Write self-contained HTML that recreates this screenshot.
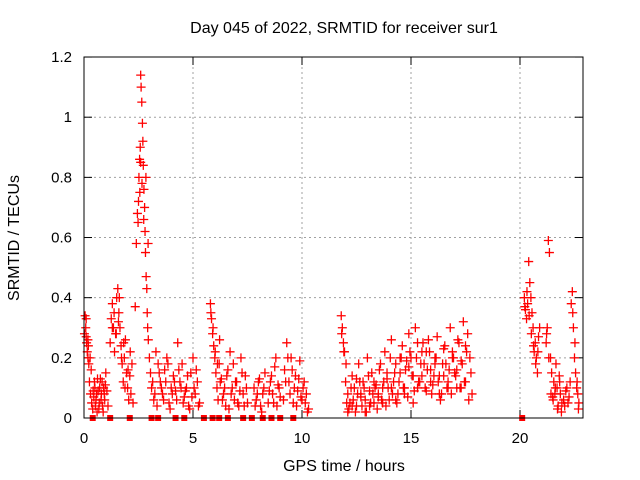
<!DOCTYPE html>
<html><head><meta charset="utf-8"><style>
body{margin:0;background:#fff;}
svg{display:block;font-family:"Liberation Sans",sans-serif;}
</style></head><body>
<svg id="chart" width="640" height="480">
<text x="344" y="33" font-size="16" text-anchor="middle">Day 045 of 2022, SRMTID for receiver sur1</text>
<text x="344" y="471" font-size="16" text-anchor="middle">GPS time / hours</text>
<text transform="translate(19,238) rotate(-90)" font-size="16" text-anchor="middle">SRMTID / TECUs</text>
<g id="grid"></g><g id="ticks"></g><g id="marks"></g>
<rect x="84" y="57" width="499" height="361" fill="none" stroke="#000" stroke-width="1"/>
</svg>
<script>
const xTicks=[0,5,10,15,20];
const yTicks=[0,0.2,0.4,0.6,0.8,1,1.2];
const yTickLabels=["0","0.2","0.4","0.6","0.8","1","1.2"];
const times=[0.05,0.08,0.1,0.12,0.15,0.18,0.2,0.22,0.25,0.3,0.35,0.4,0.45,0.5,0.55,0.6,0.65,0.7,0.75,0.8,0.85,0.9,0.95,1.0,1.05,1.1,
1.2,1.25,1.3,1.35,1.4,1.45,1.5,1.55,1.6,1.65,1.7,1.75,1.8,1.85,1.9,1.95,2.0,2.05,2.1,2.15,2.2,
2.35,2.4,2.45,2.5,2.52,2.55,2.58,2.6,2.62,2.65,2.68,2.7,2.72,2.75,2.78,2.8,2.82,2.85,2.88,2.9,2.92,2.95,3.0,3.05,3.1,3.2,
3.3,3.4,3.5,3.6,3.7,3.8,3.9,4.0,4.1,4.2,4.3,4.4,4.5,4.6,4.7,4.8,4.9,5.0,5.1,5.2,5.3,
5.8,5.85,5.9,5.95,6.0,6.05,6.1,6.15,6.2,6.3,6.4,6.5,6.6,6.7,6.8,6.9,7.0,7.1,7.2,7.3,7.4,7.5,
7.8,7.9,8.0,8.1,8.2,8.3,8.5,8.6,8.7,8.8,8.9,9.0,9.2,9.3,9.4,9.5,9.6,9.7,9.8,9.9,10.0,10.1,10.2,10.3,
11.8,11.85,11.9,11.95,12.0,12.1,12.2,12.3,12.4,12.5,12.6,12.7,12.8,12.9,13.0,13.1,13.2,13.3,13.4,13.5,13.6,13.7,13.8,13.9,14.0,14.1,14.2,14.3,14.4,14.5,14.6,14.7,14.8,14.9,15.0,15.1,15.2,15.3,15.4,15.5,15.6,15.7,15.8,15.9,16.0,16.1,16.2,16.3,16.4,16.5,16.6,16.7,16.8,16.9,17.0,17.1,17.2,17.3,17.4,17.5,17.6,17.7,17.8,
20.2,20.25,20.3,20.35,20.4,20.45,20.5,20.55,20.6,20.65,20.7,20.75,20.8,20.85,20.9,
21.2,21.25,21.3,21.35,21.4,21.45,21.5,21.55,21.6,21.65,21.7,21.75,21.8,21.85,21.9,22.0,22.1,22.2,22.3,22.35,22.4,22.45,22.5,22.55,22.6,22.65,22.7];
const values=[0.34,0.3,0.27,0.25,0.22,0.2,0.24,0.18,0.12,0.08,0.05,0.03,0.07,0.1,0.06,0.02,0.09,0.05,0.13,0.08,0.04,0.1,0.06,0.15,0.09,0.04,
0.25,0.33,0.38,0.3,0.22,0.28,0.4,0.43,0.35,0.3,0.24,0.18,0.12,0.2,0.26,0.15,0.1,0.06,0.14,0.08,0.18,
0.37,0.58,0.68,0.72,0.8,0.86,0.9,1.14,1.1,1.05,0.98,0.92,0.84,0.76,0.7,0.62,0.55,0.47,0.43,0.35,0.3,0.26,0.2,0.15,0.1,0.06,
0.22,0.18,0.12,0.08,0.16,0.2,0.05,0.1,0.14,0.09,0.25,0.12,0.18,0.07,0.1,0.04,0.15,0.2,0.08,0.12,0.05,
0.38,0.33,0.28,0.24,0.2,0.15,0.1,0.06,0.18,0.13,0.08,0.04,0.16,0.22,0.1,0.06,0.12,0.04,0.2,0.08,0.14,0.05,
0.1,0.06,0.12,0.04,0.08,0.15,0.09,0.14,0.05,0.2,0.11,0.07,0.16,0.25,0.12,0.2,0.05,0.14,0.09,0.19,0.06,0.12,0.08,0.03,
0.34,0.3,0.25,0.22,0.12,0.08,0.05,0.14,0.1,0.04,0.18,0.08,0.12,0.06,0.2,0.09,0.15,0.05,0.11,0.07,0.18,0.1,0.22,0.13,0.06,0.26,0.12,0.18,0.08,0.15,0.24,0.1,0.19,0.28,0.2,0.14,0.3,0.25,0.12,0.22,0.18,0.09,0.26,0.16,0.11,0.2,0.27,0.14,0.08,0.23,0.18,0.12,0.3,0.22,0.15,0.1,0.25,0.19,0.32,0.12,0.28,0.2,0.08,
0.4,0.36,0.33,0.38,0.52,0.45,0.4,0.35,0.3,0.22,0.25,0.2,0.15,0.27,0.3,
0.25,0.3,0.59,0.55,0.2,0.15,0.07,0.12,0.08,0.18,0.1,0.04,0.14,0.08,0.02,0.06,0.09,0.05,0.12,0.38,0.42,0.3,0.2,0.15,0.1,0.08,0.05];
const times2=[0.02,0.1,0.18,0.28,0.33,0.42,0.48,0.52,0.58,0.62,0.68,0.72,0.78,0.83,0.88,0.93,0.98,1.3,1.38,1.48,1.58,1.62,1.72,1.82,1.88,2.02,2.12,2.25,2.48,2.56,2.6,2.66,2.74,2.84,2.94,3.15,3.25,3.35,3.45,3.55,3.65,3.75,3.85,3.95,4.05,4.15,4.25,4.35,4.45,4.55,4.65,4.75,4.85,4.95,5.05,5.15,5.25,
5.82,5.92,6.02,6.12,6.22,6.25,6.35,6.45,6.55,6.65,6.75,6.85,6.95,7.05,7.15,7.25,7.35,7.45,7.85,7.95,8.05,8.15,8.25,8.45,8.55,8.65,8.75,8.85,8.95,9.15,9.25,9.35,9.45,9.55,9.65,9.75,9.85,9.95,10.05,10.15,10.25,
11.82,11.92,12.02,12.05,12.15,12.25,12.35,12.45,12.55,12.65,12.75,12.85,12.95,13.05,13.15,13.25,13.35,13.45,13.55,13.65,13.75,13.85,13.95,14.05,14.15,14.25,14.35,14.45,14.55,14.65,14.75,14.85,14.95,15.05,15.15,15.25,15.35,15.45,15.55,15.65,15.75,15.85,15.95,16.05,16.15,16.25,16.35,16.45,16.55,16.65,16.75,16.85,16.95,17.05,17.15,17.25,17.35,17.45,17.55,17.65,17.75,
12.1,12.3,12.5,12.7,12.9,13.1,13.3,13.5,13.7,13.9,14.1,14.3,14.5,14.7,14.9,15.1,15.3,15.5,15.7,15.9,16.1,16.3,16.5,16.7,16.9,17.1,17.3,17.5,
20.22,20.32,20.42,20.52,20.62,20.72,20.82,21.22,21.32,21.42,21.52,21.62,21.72,21.82,21.92,22.05,22.15,22.25,22.42,22.52,22.62,22.68];
const values2=[0.28,0.33,0.26,0.2,0.16,0.09,0.12,0.04,0.08,0.13,0.03,0.1,0.06,0.12,0.02,0.08,0.11,0.3,0.35,0.28,0.32,0.4,0.2,0.25,0.1,0.16,0.22,0.05,0.65,0.75,0.85,0.78,0.66,0.8,0.58,0.12,0.08,0.04,0.15,0.1,0.06,0.12,0.18,0.03,0.08,0.12,0.06,0.16,0.1,0.05,0.09,0.14,0.03,0.07,0.1,0.16,0.04,
0.35,0.3,0.22,0.18,0.26,0.12,0.06,0.1,0.14,0.03,0.08,0.18,0.12,0.05,0.09,0.15,0.04,0.1,0.04,0.08,0.13,0.02,0.1,0.05,0.12,0.08,0.17,0.04,0.1,0.06,0.12,0.2,0.08,0.16,0.1,0.04,0.13,0.07,0.1,0.05,0.02,
0.28,0.22,0.18,0.05,0.03,0.1,0.06,0.02,0.08,0.12,0.04,0.1,0.02,0.14,0.05,0.08,0.1,0.03,0.16,0.06,0.12,0.04,0.1,0.2,0.08,0.15,0.05,0.12,0.2,0.1,0.16,0.07,0.22,0.14,0.09,0.2,0.12,0.18,0.25,0.1,0.16,0.22,0.08,0.14,0.2,0.12,0.06,0.18,0.24,0.1,0.16,0.08,0.2,0.14,0.26,0.1,0.18,0.12,0.22,0.06,0.15,
0.02,0.04,0.13,0.07,0.02,0.04,0.12,0.08,0.05,0.15,0.1,0.06,0.2,0.08,0.17,0.05,0.1,0.14,0.22,0.12,0.18,0.08,0.14,0.1,0.2,0.16,0.1,0.24,
0.37,0.42,0.34,0.28,0.24,0.18,0.22,0.28,0.2,0.08,0.06,0.1,0.03,0.12,0.05,0.04,0.1,0.07,0.35,0.25,0.12,0.03];
const zeroTimes=[0.4,1.2,2.1,3.1,3.4,4.2,4.6,5.5,5.9,6.2,6.6,7.3,7.7,8.2,8.6,9.0,9.6,20.1];
const X=t=>84+t*21.8, Y=v=>418-v*300.8;
const ns="http://www.w3.org/2000/svg";
const grid=document.getElementById('grid'),ticks=document.getElementById('ticks'),marks=document.getElementById('marks');
function mk(tag,attrs,parent){const e=document.createElementNS(ns,tag);for(const k in attrs)e.setAttribute(k,attrs[k]);parent.appendChild(e);return e;}
xTicks.forEach(t=>{
 const x=X(t);
 if(t>0){const g=mk('line',{x1:x,x2:x,y1:57,y2:418,stroke:'#a0a0a0','stroke-dasharray':'2,3'},grid);
 
 }
 mk('line',{x1:x,x2:x,y1:418,y2:410,stroke:'#000'},ticks);mk('line',{x1:x,x2:x,y1:57,y2:65,stroke:'#000'},ticks);
 const l=mk('text',{x:x,y:443,'font-size':15,'text-anchor':'middle'},ticks);l.textContent=t;
 
 
});
yTicks.forEach((v,i)=>{
 const y=Y(v);
 if(v>0&&v<1.2){const g=mk('line',{x1:84,x2:583,y1:y,y2:y,stroke:'#a0a0a0','stroke-dasharray':'2,3'},grid);
 
 }
 mk('line',{x1:84,x2:92,y1:y,y2:y,stroke:'#000'},ticks);mk('line',{x1:583,x2:575,y1:y,y2:y,stroke:'#000'},ticks);
 const l=mk('text',{x:72,y:y+5,'font-size':15,'text-anchor':'end'},ticks);l.textContent=yTickLabels[i];
 
 
});
function plot(ts,vs){
 ts.forEach((t,i)=>{
  const x=X(t),y=Y(vs[i]);
  const p=mk('path',{d:`M${x-4.5},${y}h9M${x},${y-4.5}v9`,stroke:'#f00','stroke-width':1.3},marks);
  
  
 });
}
plot(times,values);
plot(times2,values2);
zeroTimes.forEach(t=>{
 const r=mk('rect',{x:X(t)-3,y:415,width:6,height:6,fill:'#f00'},marks);
 
 
});
</script>
</body></html>
